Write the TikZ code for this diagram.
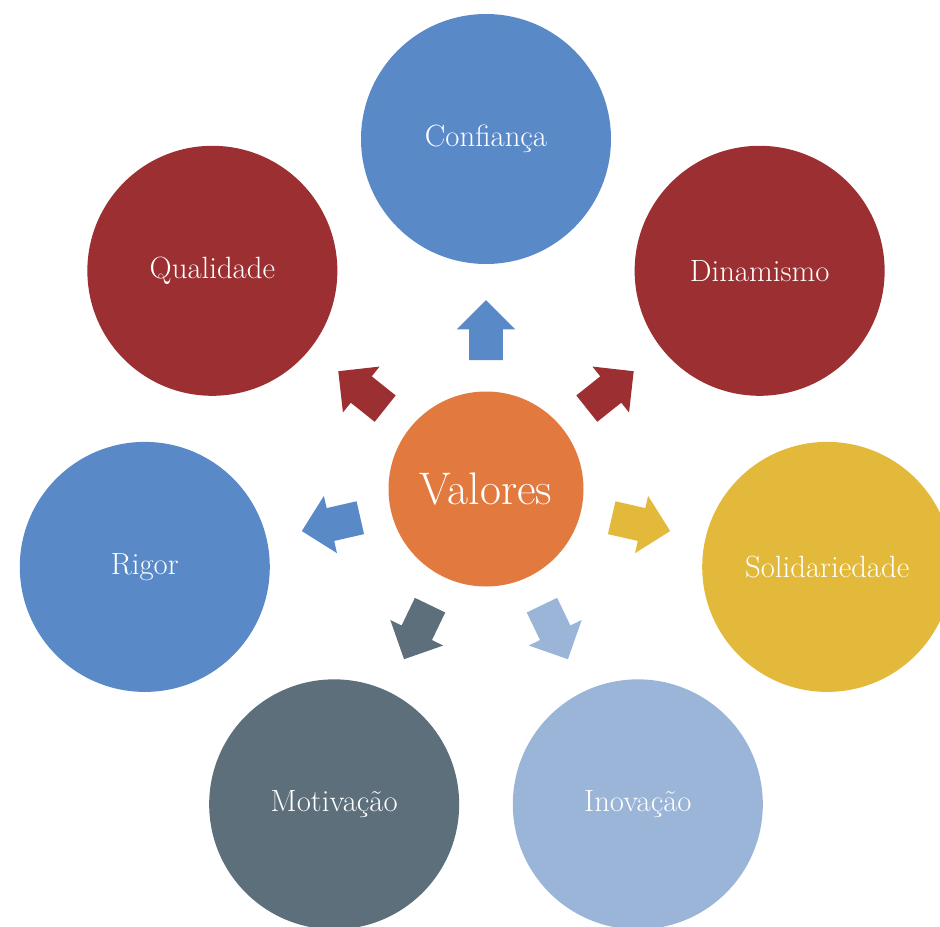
\documentclass[tikz,border=0pt]{standalone}
\usepackage{fontspec}
\usetikzlibrary{shapes.arrows}

\definecolor{valblue}{RGB}{90,137,200}
\definecolor{valred}{RGB}{156,47,49}
\definecolor{valyellow}{RGB}{226,185,58}
\definecolor{vallight}{RGB}{154,181,216}
\definecolor{valgrey}{RGB}{93,111,123}
\definecolor{valorange}{RGB}{226,122,63}

\begin{document}
\begin{tikzpicture}
    \tikzset{value/.style={circle, minimum size=5cm, text=white, font=\fontsize{17.5}{21}\selectfont},
             pointer/.style={single arrow, minimum height=1.2cm, inner sep=0.33cm, single arrow head extend=0.25cm}};

    \useasboundingbox (-9.72, -8.74) rectangle (9.08, 9.78);

    % Centre
    \node [circle, fill=valorange, minimum size=3.9cm, text=white, font=\fontsize{26}{30}\selectfont] (v) at (0, 0) {Valores};

    % Values and arrows
    \foreach \i/\a/\c/\t in {1/90/valblue/Confiança, 2/38.57/valred/Dinamismo, 3/-12.86/valyellow/Solidariedade,
                             4/-64.29/vallight/Inovação, 5/-115.71/valgrey/Motivação, 6/-167.14/valblue/Rigor,
                             7/141.43/valred/Qualidade} {
        \node [value, fill=\c] (o\i) at (\a:7) {\t};
        \node [pointer, fill=\c, rotate=\a] (p\i) at (\a:3.01) {};
    }
\end{tikzpicture}
\end{document}
